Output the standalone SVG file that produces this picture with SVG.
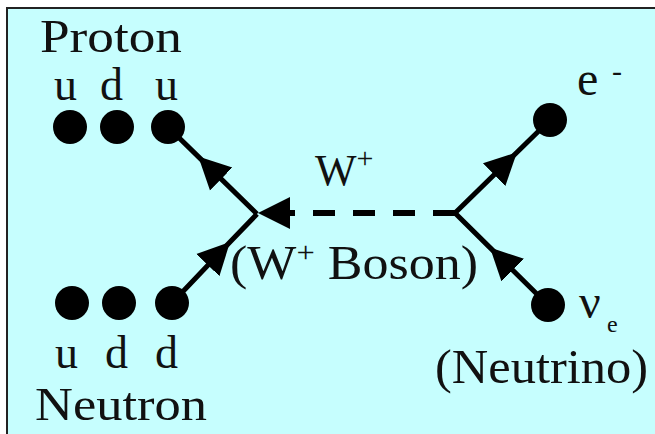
<svg xmlns="http://www.w3.org/2000/svg" width="655" height="434" viewBox="0 0 655 434">
<defs>
<marker id="arr" markerUnits="userSpaceOnUse" viewBox="0 -17 34 34" refX="32" refY="0" markerWidth="34" markerHeight="34" orient="auto">
<path d="M0,-16 L32,0 L0,16 z" fill="#000" stroke="none"/>
</marker>
</defs>
<rect x="0" y="0" width="655" height="434" fill="#fff"/>
<rect x="7" y="8" width="660" height="440" fill="#c6fefe" stroke="#222" stroke-width="2"/>
<g id="connectors" fill="none" stroke="#000">
<path stroke-width="5" marker-mid="url(#arr)" d="M257,214 L198.3,156.6 L168,127"/>
<path stroke-width="5" marker-mid="url(#arr)" d="M172,303 L230,242 L257,214"/>
<path stroke-width="5" marker-mid="url(#arr)" d="M455,213 L517,152.3 L550,120"/>
<path stroke-width="5" marker-mid="url(#arr)" d="M548,305 L490,247.6 L455,213"/>
<path stroke-width="6" stroke-dasharray="22 18" marker-end="url(#arr)" d="M455,213 L258,213"/>
</g>
<g id="proton">
<text x="40" y="52" font-family="Liberation Serif" font-size="46" fill="#111" textLength="142" lengthAdjust="spacingAndGlyphs">Proton</text>
<text x="54 80 100 130 155" y="100" font-family="Liberation Serif" font-size="46" fill="#111">u d u</text>
<circle fill="#000" cx="70" cy="127" r="17"/>
<circle fill="#000" cx="117" cy="127" r="17"/>
<circle fill="#000" cx="168" cy="127" r="17"/>
</g>
<g id="neutron">
<circle fill="#000" cx="72" cy="303" r="17"/>
<circle fill="#000" cx="119" cy="303" r="17"/>
<circle fill="#000" cx="172" cy="303" r="17"/>
<text x="55 85 105 135 155" y="368" font-family="Liberation Serif" font-size="46" fill="#111">u d d</text>
<text x="35" y="420" font-family="Liberation Serif" font-size="46" fill="#111" textLength="172" lengthAdjust="spacingAndGlyphs">Neutron</text>
</g>
<g id="wboson">
<text x="315" y="185" font-family="Liberation Serif" font-size="44" fill="#111">W<tspan font-size="30" dy="-17">+</tspan></text>
<text x="230" y="279" font-family="Liberation Serif" font-size="48" fill="#111" textLength="248" lengthAdjust="spacingAndGlyphs">(W<tspan font-size="30" dy="-17">+</tspan><tspan dy="17"> Boson)</tspan></text>
</g>
<g id="electron">
<circle fill="#000" cx="550" cy="120" r="17"/>
<text x="577" y="95" font-family="Liberation Serif" font-size="48" fill="#111">e<tspan x="612" dy="-14" font-size="30">-</tspan></text>
</g>
<g id="neutrino">
<circle fill="#000" cx="548" cy="305" r="17"/>
<text x="579" y="318" font-family="Liberation Serif" font-size="48" fill="#111">ν<tspan font-size="24" x="607" dy="14">e</tspan></text>
<text x="435" y="383" font-family="Liberation Serif" font-size="48" fill="#111" textLength="213" lengthAdjust="spacingAndGlyphs">(Neutrino)</text>
</g>
</svg>
